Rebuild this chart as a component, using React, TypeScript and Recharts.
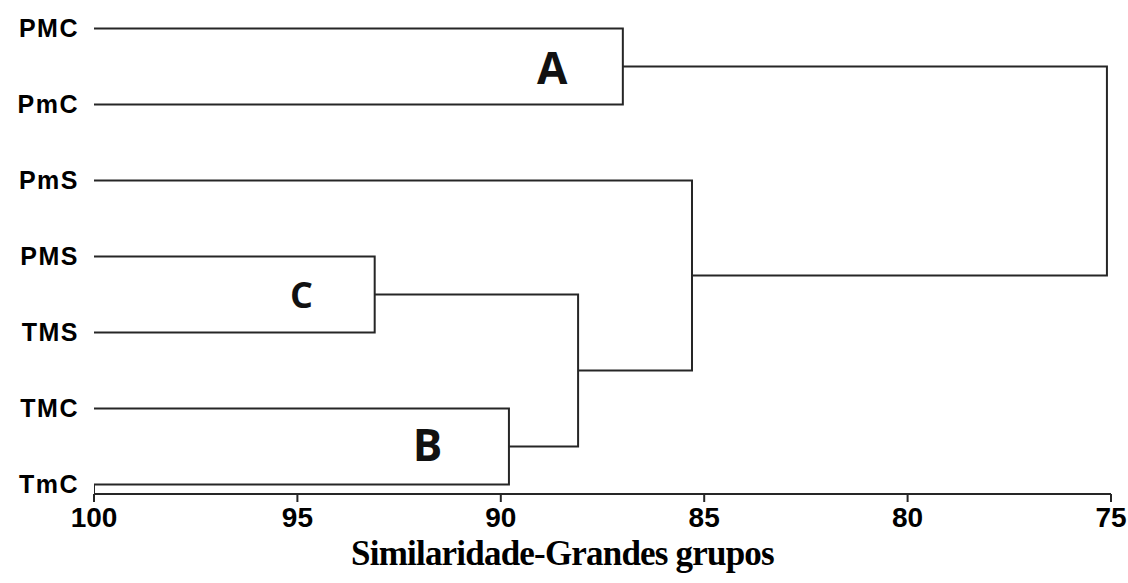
import { ComposedChart, Line, Scatter, XAxis, YAxis, Label } from "recharts";

// leaves, top to bottom
const leafNames = ["PMC", "PmC", "PmS", "PMS", "TMS", "TMC", "TmC"];

// merges: node ids 0-6 are leaves, merges get 7, 8, ... in this order
const mergeChildren: [number, number][] = [
  [0, 1], // 7  A
  [3, 4], // 8  C
  [5, 6], // 9  B
  [8, 9], // 10 C+B
  [2, 10], // 11 PmS + (C+B)
  [7, 11], // 12 root
];
const mergeLevels = [87.0, 93.1, 89.8, 88.1, 85.3, 75.1];

const xTicks = [100, 95, 90, 85, 80, 75];

const clusterNames = ["A", "B", "C"];
const clusterX = [88.74, 91.8, 94.9];
const clusterY = [0.52, 5.49, 3.51];

const Y_MIN = -0.375;
const Y_MAX = 6.125;
const INK = "#262626";

// node height (similarity) and vertical position
function buildLinks() {
  const level: number[] = leafNames.map(() => 100);
  const pos: number[] = leafNames.map((_, i) => i);
  const links: { x: number; y: number }[][] = [];
  mergeChildren.forEach(([a, b], i) => {
    const lv = mergeLevels[i];
    links.push([
      { x: level[a], y: pos[a] },
      { x: lv, y: pos[a] },
      { x: lv, y: pos[b] },
      { x: level[b], y: pos[b] },
    ]);
    level.push(lv);
    pos.push((pos[a] + pos[b]) / 2);
  });
  return links;
}

const links = buildLinks();
// little closing edge between the last leaf and the axis
const leftEdge = [
  { x: 100, y: leafNames.length - 1 },
  { x: 100, y: Y_MAX },
];

const clusterData = clusterNames.map((name, i) => ({ name, x: clusterX[i], y: clusterY[i] }));

function ClusterLabel(props: any) {
  const { cx, cy, payload } = props;
  const size = payload.name === "C" ? 36 : 44;
  return (
    <text
      x={cx}
      y={cy + size * 0.357}
      textAnchor="middle"
      fontFamily="'Open Sans', sans-serif"
      fontWeight={700}
      fontSize={size}
      fill="#111"
    >
      {payload.name}
    </text>
  );
}

export default function App() {
  return (
    <div style={{ position: "absolute", left: 0, top: 0, width: 1128, height: 583, background: "#fff" }}>
      <ComposedChart width={1128} height={583} margin={{ top: 0, right: 17, bottom: 0, left: 0 }}>
        <XAxis
          type="number"
          dataKey="x"
          domain={[75, 100]}
          reversed
          ticks={xTicks}
          allowDataOverflow
          height={89}
          axisLine={{ stroke: INK, strokeWidth: 2 }}
          tickLine={{ stroke: INK, strokeWidth: 2 }}
          tickSize={8}
          tickMargin={5}
          tick={{ fill: "#000", fontSize: 28, fontWeight: 700, fontFamily: "'Liberation Sans', Arial, sans-serif" }}
        >
          <Label
            value="Similaridade-Grandes grupos"
            position="insideBottom"
            offset={18}
            dx={-40}
            style={{
              fill: "#000",
              fontSize: 35,
              fontWeight: 700,
              letterSpacing: -0.8,
              fontFamily: "'Liberation Serif', 'Times New Roman', serif",
            }}
          />
        </XAxis>
        <YAxis
          type="number"
          dataKey="y"
          domain={[Y_MIN, Y_MAX]}
          reversed
          allowDataOverflow
          ticks={leafNames.map((_, i) => i)}
          tickFormatter={(v: number) => leafNames[v] ?? ""}
          width={94}
          axisLine={false}
          tickLine={false}
          tickSize={6}
          tickMargin={9}
          tick={{ fill: "#000", fontSize: 25, fontWeight: 700, letterSpacing: 1.5, fontFamily: "'Liberation Sans', Arial, sans-serif" }}
        />
        {links.map((pts, i) => (
          <Line
            key={i}
            data={pts}
            dataKey="y"
            type="linear"
            stroke={INK}
            strokeWidth={2}
            dot={false}
            activeDot={false}
            isAnimationActive={false}
          />
        ))}
        <Line
          data={leftEdge}
          dataKey="y"
          type="linear"
          stroke={INK}
          strokeWidth={2}
          dot={false}
          activeDot={false}
          isAnimationActive={false}
        />
        <Scatter data={clusterData} dataKey="y" shape={ClusterLabel} isAnimationActive={false} />
      </ComposedChart>
    </div>
  );
}
